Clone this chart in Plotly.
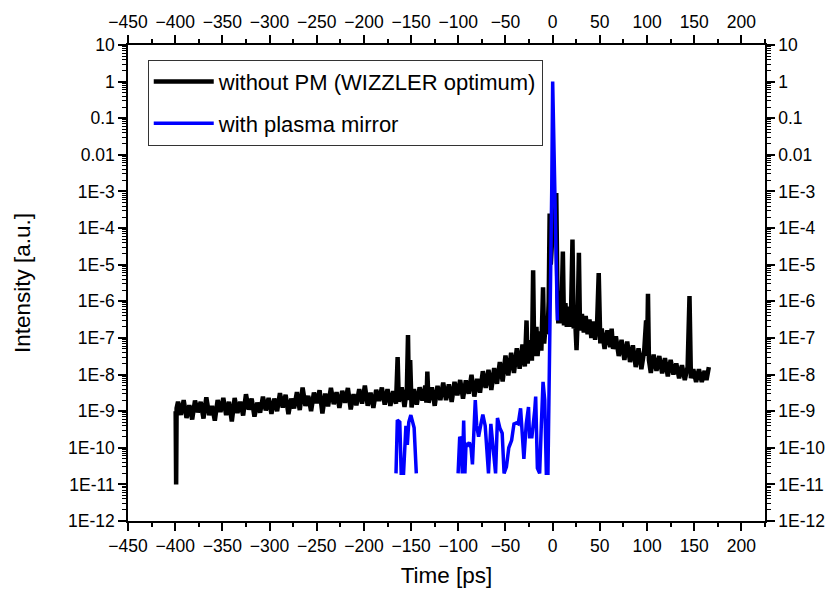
import plotly.graph_objects as go

# ---------------- data ----------------
t_black = [
    -399.5, -399.0, -398.5,
    -397, -394, -391, -388, -385, -382, -379, -376, -373, -370,
    -367, -364, -361, -358, -355, -352, -349, -346, -343, -340,
    -337, -334, -331, -328, -325, -322, -319, -316, -313, -310,
    -307, -304, -301,
    -298, -295, -292, -289, -286, -283, -280, -277, -274, -271,
    -268, -265, -262, -259, -256, -253, -250, -247, -244, -241,
    -238, -235, -232, -229, -226, -223, -220, -217, -214, -211,
    -208, -205, -202, -199, -196, -193, -190, -187, -184, -181, -178,
    -175, -172, -169, -166, -164.3, -163, -160, -157, -154.5, -153.3,
    -152.3, -151, -149.5, -147, -144, -141, -138, -135, -133.8, -132.8,
    -131.5, -128, -125, -122, -119, -116, -113, -110, -107, -104, -101,
    -98, -95, -92, -89, -86, -83, -80, -77, -74, -71,
    -68, -65, -62, -59, -56, -53, -50, -47, -44, -41,
    -38, -35, -32, -29.5, -27.7, -26.5, -24, -22, -20.7, -19.5,
    -17.2, -16, -14, -12, -10.2, -9, -7, -5.5, -4.2, -3.2,
    -2, -1, 0, 1, 2, 2.8, 3.8, 5, 6, 7,
    8, 9.5, 10.8, 12, 13.5, 15, 16.5, 18, 19.5, 21,
    22.3, 23.5, 25.3, 26.5, 27.8, 29, 31, 33, 35, 37,
    39, 41, 43, 45, 47, 48.8, 50.5, 52, 55, 58,
    61, 62.5, 64, 67, 70, 73, 76, 79, 82, 85,
    88, 91, 94, 97, 99, 100, 101, 102, 104, 107,
    110, 113, 116, 119, 122, 125, 128, 131, 134, 137,
    140, 143, 145, 146.5, 149, 152, 155, 158, 161, 163, 165.5,
]
i_black = [
    1.0e-9, 1.0e-11, 1.2e-9,
    1.8e-9, 7.9e-10, 2.0e-9, 6.5e-10, 1.45e-9, 5.9e-10, 1.95e-9, 9.3e-10, 1.8e-9, 6.3e-10,
    2.4e-9, 7.8e-10, 1.4e-9, 5.5e-10, 2.0e-9, 9.5e-10, 2.3e-9, 7.8e-10, 1.8e-9, 5.2e-10,
    2.3e-9, 8.9e-10, 1.8e-9, 7.6e-10, 2.9e-9, 1.1e-9, 2.2e-9, 7.1e-10, 1.7e-9, 9.1e-10,
    2.5e-9, 1.05e-9, 2.3e-9,
    8.5e-10, 2.2e-9, 1.0e-9, 3.1e-9, 1.26e-9, 2.8e-9, 8.3e-10, 2.2e-9, 1.2e-9, 3.3e-9,
    1.07e-9, 4.4e-9, 1.4e-9, 2.6e-9, 1.0e-9, 3.2e-9, 1.66e-9, 3.7e-9, 8.7e-10, 3.0e-9,
    1.35e-9, 4.3e-9, 1.55e-9, 3.3e-9, 1.23e-9, 3.6e-9, 1.7e-9, 4.3e-9, 1.12e-9, 2.9e-9,
    1.45e-9, 4.0e-9, 1.6e-9, 5.0e-9, 1.4e-9, 3.2e-9, 1.23e-9, 3.8e-9, 1.9e-9, 4.4e-9, 1.5e-9,
    4.0e-9, 1.4e-9, 3.5e-9, 1.6e-9, 3.0e-8, 1.8e-9, 4.5e-9, 1.3e-9, 4.1e-9, 1.2e-7,
    2.0e-9, 2.5e-8, 1.26e-9, 4.0e-9, 1.5e-9, 4.5e-9, 1.95e-9, 5.0e-9, 1.7e-9, 1.2e-8,
    1.7e-9, 4.5e-9, 1.4e-9, 4.9e-9, 2.0e-9, 6.0e-9, 2.0e-9, 5.4e-9, 1.8e-9, 6.3e-9, 2.7e-9,
    7.1e-9, 2.2e-9, 6.9e-9, 3.0e-9, 9.8e-9, 2.5e-9, 7.6e-9, 3.2e-9, 1.23e-8, 4.3e-9,
    1.35e-8, 3.8e-9, 1.5e-8, 5.6e-9, 2.2e-8, 6.5e-9, 3.3e-8, 9.5e-9, 3.9e-8, 1.1e-8,
    5.2e-8, 1.45e-8, 6.6e-8, 1.66e-8, 3.0e-7, 2.0e-8, 8.7e-8, 2.4e-8, 7.0e-6, 3.2e-8,
    2.0e-7, 3.2e-8, 1.5e-7, 4.5e-8, 2.4e-6, 7.0e-8, 3.2e-7, 1.26e-7, 1.0e-6, 2.5e-4,
    1.0e-5, 3.0e-5, 1.0e-4, 5.0e-5, 2.0e-4, 8.0e-4, 9.0e-4, 2.0e-6, 2.5e-7, 1.0e-6,
    2.5e-7, 7.9e-7, 2.3e-5, 2.2e-7, 8.9e-7, 2.0e-7, 7.1e-7, 2.0e-7, 5.6e-7, 4.9e-5,
    1.8e-7, 5.0e-7, 4.6e-8, 3.5e-7, 2.1e-5, 1.6e-7, 4.5e-7, 1.4e-7, 4.0e-7, 1.26e-7,
    3.2e-7, 1.0e-7, 2.8e-7, 8.9e-8, 2.2e-7, 5.9e-6, 7.1e-8, 1.8e-7, 5.0e-8, 1.6e-7,
    5.6e-8, 1.8e-7, 5.0e-8, 1.1e-7, 3.2e-8, 8.9e-8, 2.5e-8, 7.9e-8, 2.2e-8, 6.3e-8,
    1.6e-8, 5.2e-8, 1.4e-8, 4.5e-8, 3.0e-7, 3.2e-8, 1.6e-6, 2.5e-8, 1.1e-8, 3.5e-8,
    1.26e-8, 3.2e-8, 1.07e-8, 2.8e-8, 8.9e-9, 2.5e-8, 1.0e-8, 2.0e-8, 7.9e-9, 1.8e-8,
    7.1e-9, 1.6e-8, 1.4e-6, 7.9e-9, 1.4e-8, 6.3e-9, 1.4e-8, 6.3e-9, 1.26e-8, 7.1e-9, 1.6e-8,
]

t_blue = [
    -166.0, -164.6, -162.0, -160.5, -158.0, -155.5, -154.0, -152.5, -150.3, -148.5,
    -146.8, -144.5, -122.0,
    -100.2, -98.5, -97.0, -95.8, -94.3, -93.0, -91.8, -90.0, -88.3, -86.5,
    -85.0, -82.0, -80.5, -78.5, -76.0, -74.0, -71.5, -68.0, -65.5, -63.0,
    -60.5, -58.5, -56.0, -53.5, -51.5, -49.0, -46.5, -43.5, -41.0, -38.5,
    -36.5, -34.0, -32.0, -30.5, -28.0, -25.6, -24.5, -22.0, -19.0, -18.0,
    -16.2, -13.8, -12.1, -10.2, -8.4, -6.7, -5.0, -3.5, -2.0, -1.0,
    0.0, 1.0, 2.0, 3.0, 4.0, 5.0,
]
i_blue = [
    2e-11, 5.7e-10, 5.0e-10, 2e-11, 2e-11, 4.0e-10, 1.2e-10, 5.0e-10, 7.8e-10, 4.5e-10,
    3.5e-10, 2e-11, None,
    2e-11, 2.0e-10, 1.6e-10, 2e-11, 5.5e-10, 2e-11, 1.3e-10, 1.2e-10, 1.4e-10, 1.0e-10,
    3.5e-11, 2.0e-9, 4.0e-10, 2.0e-10, 4.5e-10, 8.0e-10, 4.0e-10, 2e-11, 4.5e-10, 1.2e-10,
    2e-11, 6.5e-10, 3.5e-10, 2.5e-10, 2e-11, 3e-11, 1.0e-10, 1.6e-10, 4.5e-10, 4.8e-10,
    4.5e-10, 1.2e-9, 1.8e-10, 5e-11, 4.5e-10, 1.3e-9, 2.0e-10, 2.0e-10, 1.07e-9, 2.5e-9,
    2.8e-11, 2e-11, 3.7e-10, 6.3e-9, 2.0e-9, 2e-11, 2e-11, 1e-8, 3e-6, 1e-3,
    1.0, 5e-2, 3e-3, 5e-4, 3e-6, 3e-7,
]

x_ticks = [-450, -400, -350, -300, -250, -200, -150, -100, -50, 0, 50, 100, 150, 200]
y_tickvals = [10, 1, 0.1, 0.01, 1e-3, 1e-4, 1e-5, 1e-6, 1e-7, 1e-8, 1e-9, 1e-10, 1e-11, 1e-12]
y_ticktext = ["10", "1", "0.1", "0.01", "1E-3", "1E-4", "1E-5", "1E-6", "1E-7",
              "1E-8", "1E-9", "1E-10", "1E-11", "1E-12"]
y_minor = [m * 10.0 ** e for e in range(-12, 1) for m in range(2, 10)]

name_black = "without PM (WIZZLER optimum)"
name_blue = "with plasma mirror"

# ---------------- figure ----------------
FONT = "Liberation Sans, Arial, sans-serif"
fig = go.Figure()
fig.add_trace(go.Scatter(x=t_black, y=i_black, mode="lines", name=name_black,
                         line=dict(color="#000000", width=4.5), legendgroup="a"))
fig.add_trace(go.Scatter(x=t_blue, y=i_blue, mode="lines", name=name_blue,
                         line=dict(color="#0000FF", width=3.5), connectgaps=False,
                         legendgroup="b"))
fig.add_trace(go.Scatter(x=[None], y=[None], xaxis="x2", yaxis="y2",
                         showlegend=False, hoverinfo="skip"))

xcommon = dict(range=[-450, 225], tickmode="array", tickvals=x_ticks,
               ticks="outside", ticklen=8, tickwidth=1.5, tickcolor="black",
               showline=True, linecolor="black", linewidth=1.5, showgrid=False,
               zeroline=False, tickfont=dict(family=FONT, size=17.5, color="black"),
               minor=dict(dtick=25, tick0=0, ticks="outside", ticklen=4,
                          tickwidth=1.5, tickcolor="black", showgrid=False))
ycommon = dict(type="log", range=[-12, 1], tickmode="array", tickvals=y_tickvals,
               ticktext=y_ticktext, ticks="outside", ticklen=8, tickwidth=1.5,
               tickcolor="black", showline=True, linecolor="black", linewidth=1.5,
               showgrid=False, zeroline=False,
               tickfont=dict(family=FONT, size=17.5, color="black"),
               minor=dict(tickmode="array", tickvals=y_minor, ticks="outside",
                          ticklen=4, tickwidth=1, tickcolor="black", showgrid=False))

fig.update_layout(
    width=837, height=597,
    margin=dict(l=128, r=66, t=43, b=76),
    paper_bgcolor="white", plot_bgcolor="white",
    font=dict(family=FONT, color="black"),
    xaxis=dict(**xcommon, title=dict(text="Time [ps]", font=dict(size=22.5), standoff=12)),
    xaxis2=dict(**xcommon, overlaying="x", side="top", anchor="y"),
    yaxis=dict(**ycommon, title=dict(text="Intensity [a.u.]", font=dict(size=22.5), standoff=31)),
    yaxis2=dict(**ycommon, overlaying="y", side="right", anchor="x"),
    legend=dict(x=0.031, y=0.969, xanchor="left", yanchor="top",
                bgcolor="white", bordercolor="#333333", borderwidth=1,
                font=dict(family=FONT, size=22, color="black"),
                itemwidth=60, tracegroupgap=10, traceorder="grouped"),
    showlegend=True,
)

fig.write_html("out.html")
